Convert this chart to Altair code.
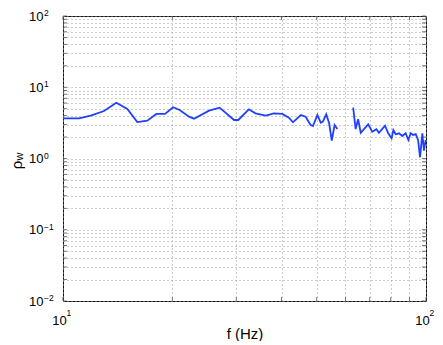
import altair as alt
import pandas as pd

# Segment 1 (low frequencies)
freq1 = [10.0, 11.07, 11.92, 12.97, 14.02, 15.04, 16.02, 17.07, 18.07, 19.1, 20.1, 20.97,
         22.24, 22.96, 25.25, 27.0, 29.6, 30.4, 32.5, 33.9, 36.2, 38.1, 40.2, 41.9, 43.0,
         45.2, 46.6, 48.1, 48.8, 50.2, 51.3, 52.0, 53.1, 54.1, 55.0, 56.0, 57.0]
rho1 = [3.66, 3.66, 3.99, 4.64, 6.07, 4.95, 3.25, 3.40, 4.22, 4.22, 5.24, 4.80,
        3.86, 3.62, 4.69, 5.17, 3.47, 3.47, 4.90, 4.31, 3.99, 4.31, 4.22, 3.74, 3.22,
        4.07, 3.86, 2.95, 2.86, 4.07, 3.18, 3.30, 4.17, 3.12, 1.78, 2.95, 2.59]
# Segment 2 (after the gap)
freq2 = [63.0, 64.0, 65.0, 66.1, 69.3, 71.1, 73.0, 74.2, 77.1, 78.7, 80.4, 81.3, 82.5,
         84.3, 86.0, 87.9, 89.4, 90.8, 92.1, 93.7, 95.1, 96.3, 97.7, 98.7, 99.8]
rho2 = [5.17, 2.59, 3.55, 2.30, 3.02, 2.38, 2.57, 2.30, 2.88, 2.26, 1.92, 2.51, 2.19,
        2.26, 2.07, 2.26, 1.82, 2.26, 2.14, 2.20, 1.82, 1.04, 2.26, 1.29, 1.82]

x_ticks = [10, 20, 30, 40, 50, 60, 70, 80, 90, 100]
y_ticks = [0.01, 0.02, 0.03, 0.04, 0.05, 0.06, 0.07, 0.08, 0.09,
           0.1, 0.2, 0.3, 0.4, 0.5, 0.6, 0.7, 0.8, 0.9,
           1, 2, 3, 4, 5, 6, 7, 8, 9,
           10, 20, 30, 40, 50, 60, 70, 80, 90, 100]
x_decades = [10, 100]
x_exponents = ["1", "2"]
y_decades = [0.01, 0.1, 1, 10, 100]
y_exponents = ["\u22122", "\u22121", "0", "1", "2"]

FONT = "Liberation Sans"

df = pd.DataFrame({
    "f": freq1 + freq2,
    "rho": rho1 + rho2,
    "seg": ["a"] * len(freq1) + ["b"] * len(freq2),
})

xscale = alt.Scale(type="log", domain=[10, 100], nice=False)
yscale = alt.Scale(type="log", domain=[0.01, 100], nice=False)

grid_axis = dict(grid=True, gridColor="#9a9a9a", gridDash=[1, 3], gridWidth=1,
                 ticks=False, domain=False, labelFont=FONT, labelFontSize=13,
                 labelColor="black", labelOverlap=False, labelFlush=False)

line = alt.Chart(df).mark_line(color="#2040ff", strokeWidth=1.8, clip=True).encode(
    x=alt.X("f:Q", scale=xscale,
            axis=alt.Axis(values=x_ticks, title="f (Hz)", titleFont=FONT, titleFontSize=15,
                          titleFontWeight="normal", titleColor="black",
                          titleBaseline="alphabetic", titleY=37,
                          labelPadding=13, labelOffset=-4,
                          labelExpr="datum.value == 10 || datum.value == 100 ? '10' : ''",
                          **grid_axis)),
    y=alt.Y("rho:Q", scale=yscale,
            axis=alt.Axis(values=y_ticks, title=None, labelPadding=20,
                          labelExpr="(datum.value == 0.01 || datum.value == 0.1 || datum.value == 1 || datum.value == 10 || datum.value == 100) ? '10' : ''",
                          **grid_axis)),
    detail="seg:N",
)

xt = pd.DataFrame({"v": x_ticks})
yt = pd.DataFrame({"v": y_ticks})
tick_style = dict(color="#555555", thickness=0.8, size=4, opacity=1)
xticks_bottom = alt.Chart(xt).mark_tick(**tick_style).encode(
    x=alt.X("v:Q", scale=xscale), y=alt.value(283))
xticks_top = alt.Chart(xt).mark_tick(**tick_style).encode(
    x=alt.X("v:Q", scale=xscale), y=alt.value(2))
yticks_left = alt.Chart(yt).mark_tick(**tick_style).encode(
    y=alt.Y("v:Q", scale=yscale), x=alt.value(2))
yticks_right = alt.Chart(yt).mark_tick(**tick_style).encode(
    y=alt.Y("v:Q", scale=yscale), x=alt.value(361))

xexp = alt.Chart(pd.DataFrame({"v": x_decades, "t": x_exponents})).mark_text(
    font=FONT, fontSize=8.5, align="left", baseline="alphabetic", dx=3.5, clip=False
).encode(x=alt.X("v:Q", scale=xscale), y=alt.value(300), text="t:N")

yexp = alt.Chart(pd.DataFrame({"v": y_decades, "t": y_exponents})).mark_text(
    font=FONT, fontSize=8.5, align="left", baseline="alphabetic", dy=0, clip=False
).encode(y=alt.Y("v:Q", scale=yscale), x=alt.value(-19), text="t:N")

rho_title = alt.Chart(pd.DataFrame({"t": ["\u03c1"]})).mark_text(
    font=FONT, fontSize=15, angle=270, align="center", baseline="middle"
).encode(x=alt.value(-46), y=alt.value(149), text="t:N")

w_sub = alt.Chart(pd.DataFrame({"t": ["w"]})).mark_text(
    font=FONT, fontSize=11, angle=270, align="center", baseline="middle"
).encode(x=alt.value(-43), y=alt.value(140.5), text="t:N")

chart = alt.layer(line, xticks_bottom, xticks_top, yticks_left, yticks_right,
                  xexp, yexp, rho_title, w_sub).properties(
    width=363, height=285,
    background="white",
    autosize=alt.AutoSizeParams(type="none"),
    padding={"left": 55, "top": 8, "right": 9, "bottom": 40},
).configure_view(stroke="#111111", strokeWidth=1)

chart.save("out.html", embed_options={"renderer": "svg", "actions": False})
